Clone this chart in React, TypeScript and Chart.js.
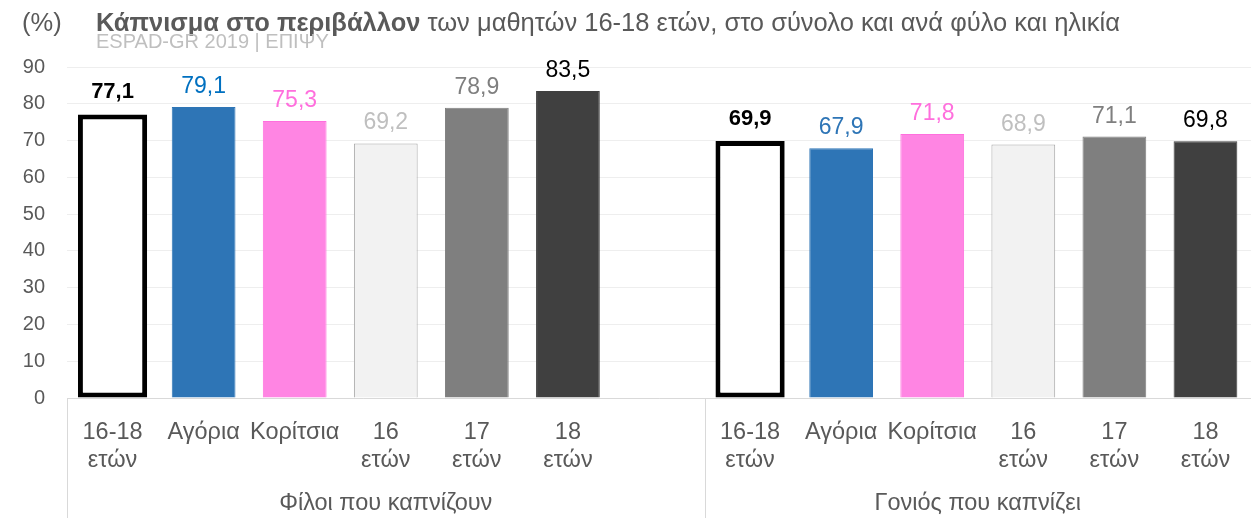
import React, { useEffect, useRef } from "react";
import { Chart, registerables } from "chart.js";

Chart.register(...registerables);

const categories: (string | string[])[] = [
  ["16-18", "ετών"],
  "Αγόρια",
  "Κορίτσια",
  ["16", "ετών"],
  ["17", "ετών"],
  ["18", "ετών"],
];
const groupNames = ["Φίλοι που καπνίζουν", "Γονιός που καπνίζει"];
const friendsValues = [77.1, 79.1, 75.3, 69.2, 78.9, 83.5];
const parentValues = [69.9, 67.9, 71.8, 68.9, 71.1, 69.8];
const yTickValues = [0, 10, 20, 30, 40, 50, 60, 70, 80, 90];

const titleUnit = "(%)";
const titleBold = "Κάπνισμα στο περιβάλλον";
const titleRest = " των μαθητών 16-18 ετών, στο σύνολο και ανά φύλο και ηλικία";
const subtitle = "ESPAD-GR 2019 | ΕΠΙΨΥ";

const barFill = ["#FFFFFF", "#2E75B6", "#FF85E3", "#F2F2F2", "#7F7F7F", "#404040"];
const barBorder = ["#000000", "#2E75B6", "#FF6FDD", "#A6A6A6", "#7F7F7F", "#404040"];
const labelColorsFriends = ["#000000", "#0070C0", "#FF6FDD", "#BFBFBF", "#7F7F7F", "#000000"];
const labelColorsParents = ["#000000", "#2E75B6", "#FF6FDD", "#BFBFBF", "#7F7F7F", "#000000"];

const FONT = "'Liberation Sans', Arial, sans-serif";
const TEXT = "#595959";

export default function App() {
  const ref = useRef<HTMLCanvasElement | null>(null);

  useEffect(() => {
    document.body.style.margin = "0";
    const canvas = ref.current;
    if (!canvas) return;

    const labels = [...categories, "", ...categories];
    const n = categories.length;
    const totalData: (number | null)[] = [];
    const restData: (number | null)[] = [];
    const fills: string[] = [];
    const borders: string[] = [];
    const labelColors: string[] = [];
    const pushGroup = (vals: number[], lc: string[]) => {
      vals.forEach((v, i) => {
        totalData.push(i === 0 ? v : null);
        restData.push(i === 0 ? null : v);
        fills.push(barFill[i]);
        borders.push(barBorder[i]);
        labelColors.push(lc[i]);
      });
    };
    pushGroup(friendsValues, labelColorsFriends);
    totalData.push(null);
    restData.push(null);
    fills.push("#fff");
    borders.push("#fff");
    labelColors.push("#000");
    pushGroup(parentValues, labelColorsParents);

    const fmt = (v: number) => v.toFixed(1).replace(".", ",");

    const decorPlugin = {
      id: "decor",
      afterDatasetsDraw(chart: any) {
        const ctx = chart.ctx;
        ctx.save();
        // data labels
        chart.data.datasets.forEach((ds: any, di: number) => {
          const meta = chart.getDatasetMeta(di);
          meta.data.forEach((el: any, idx: number) => {
            const v = ds.data[idx];
            if (v == null) return;
            const isTotal = di === 0;
            ctx.font = `${isTotal ? "bold 22px" : "23px"} ${FONT}`;
            ctx.fillStyle = labelColors[idx];
            ctx.textAlign = "center";
            ctx.textBaseline = "alphabetic";
            ctx.fillText(fmt(v), el.x, el.y - (isTotal ? 16 : 14));
          });
        });

        const x = chart.scales.x;
        const area = chart.chartArea;
        const H = chart.height;
        const half = (x.getPixelForValue(1) - x.getPixelForValue(0)) / 2;
        const sep = x.getPixelForValue(n + 1) - half;
        ctx.strokeStyle = "#D9D9D9";
        ctx.lineWidth = 1;
        [Math.round(area.left) + 0.5, Math.round(sep) + 0.5].forEach((px) => {
          ctx.beginPath();
          ctx.moveTo(px, area.bottom);
          ctx.lineTo(px, H);
          ctx.stroke();
        });
        ctx.fillStyle = TEXT;
        ctx.font = `23.5px ${FONT}`;
        ctx.textAlign = "center";
        ctx.textBaseline = "alphabetic";
        ctx.fillText(groupNames[0], (area.left + sep) / 2, 510);
        ctx.fillText(groupNames[1], (sep + area.right) / 2, 510);

        // title
        ctx.textAlign = "left";
        ctx.font = `25.5px ${FONT}`;
        ctx.fillStyle = TEXT;
        ctx.fillText(titleUnit, 22, 31);
        ctx.font = `bold 25.5px ${FONT}`;
        ctx.fillText(titleBold, 96, 31);
        const w = ctx.measureText(titleBold).width;
        ctx.font = `25.5px ${FONT}`;
        ctx.fillText(titleRest, 96 + w, 31);
        ctx.font = `20px ${FONT}`;
        ctx.fillStyle = "#BFBFBF";
        ctx.fillText(subtitle, 96, 48);
        ctx.restore();
      },
    };

    const chart = new Chart(canvas, {
      type: "bar",
      data: {
        labels,
        datasets: [
          {
            data: totalData,
            backgroundColor: "#FFFFFF",
            borderColor: "#000000",
            borderWidth: 5,
            borderSkipped: false,
            barPercentage: 0.76,
            categoryPercentage: 1,
            grouped: false,
          } as any,
          {
            data: restData,
            backgroundColor: fills,
            borderColor: borders,
            borderWidth: 1,
            barPercentage: 0.7,
            categoryPercentage: 1,
            grouped: false,
          } as any,
        ],
      },
      options: {
        responsive: false,
        animation: false,
        layout: { padding: { top: 67, right: 0, left: 0, bottom: 0 } },
        plugins: {
          legend: { display: false },
          tooltip: { enabled: false },
          title: { display: false },
        },
        scales: {
          x: {
            grid: { display: false, drawTicks: false },
            border: { display: true, color: "#D9D9D9", width: 1 },
            ticks: {
              color: TEXT,
              font: { family: FONT, size: 23.5, lineHeight: 1.2 },
              padding: 20,
              maxRotation: 0,
              autoSkip: false,
            },
            afterFit(scale: any) {
              scale.height = 120;
            },
          },
          y: {
            min: 0,
            max: 90,
            afterBuildTicks(scale: any) {
              scale.ticks = yTickValues.map((v) => ({ value: v }));
            },
            grid: { color: "#EEEEEE", drawTicks: false },
            border: { display: false },
            ticks: {
              color: TEXT,
              font: { family: FONT, size: 20 },
              padding: 22,
            },
            afterFit(scale: any) {
              scale.width = 67;
            },
          },
        },
      },
      plugins: [decorPlugin],
    });

    return () => chart.destroy();
  }, []);

  return (
    <div style={{ width: 1251, height: 518 }}>
      <canvas ref={ref} width={1251} height={518} />
    </div>
  );
}
